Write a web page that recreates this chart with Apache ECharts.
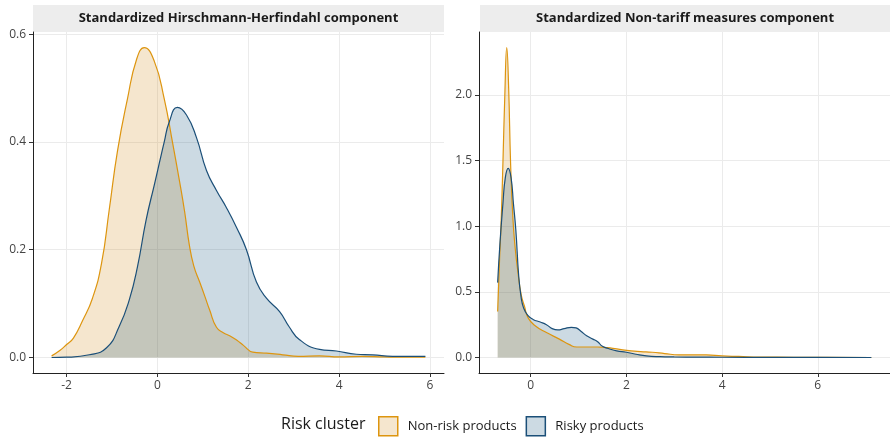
<!DOCTYPE html>
<html><head><meta charset="utf-8">
<script src="https://cdn.jsdelivr.net/npm/echarts@6/dist/echarts.min.js"></script>
<style>html,body{margin:0;padding:0;background:#fff}#c{width:890px;height:438px}</style>
</head><body><div id="c"></div>
<script>
// ---- Data ----
const panelTitles = ['Standardized Hirschmann-Herfindahl component', 'Standardized Non-tariff measures component'];
const seriesNames = ['Non-risk products', 'Risky products'];

// Left panel: Hirschmann-Herfindahl
const hhiNonRiskX = [-2.33,-2.15,-2.0,-1.85,-1.65,-1.43,-1.23,-1.06,-0.88,-0.66,-0.46,-0.29,-0.07,0.15,0.33,0.48,0.6,0.7,0.8,0.93,1.05,1.15,1.3,1.45,1.6,1.75,1.9,2.1,2.4,2.76,3.1,3.57,4.0,4.5,5.0,5.5,5.9];
const hhiNonRiskY = [0.003,0.013,0.024,0.036,0.068,0.11,0.175,0.275,0.383,0.48,0.553,0.575,0.55,0.48,0.40,0.33,0.27,0.21,0.17,0.14,0.112,0.088,0.056,0.046,0.04,0.032,0.022,0.01,0.008,0.005,0.002,0.003,0.001,0.002,0.001,0.0005,0.0005];
const hhiRiskyX = [-2.33,-2.0,-1.5,-1.12,-0.84,-0.62,-0.44,-0.25,-0.07,0.04,0.15,0.26,0.44,0.64,0.86,1.08,1.3,1.52,1.75,1.96,2.18,2.4,2.69,2.9,3.13,3.57,3.94,4.38,4.74,5.18,5.9];
const hhiRiskyY = [0.0,0.0005,0.005,0.018,0.058,0.107,0.168,0.255,0.32,0.36,0.40,0.437,0.464,0.45,0.408,0.347,0.31,0.278,0.24,0.2,0.14,0.11,0.085,0.057,0.033,0.015,0.012,0.006,0.005,0.002,0.002];

// Right panel: Non-tariff measures
const ntmNonRiskX = [-0.69,-0.65,-0.62,-0.58,-0.54,-0.5,-0.46,-0.42,-0.37,-0.32,-0.27,-0.2,-0.13,-0.05,0.1,0.33,0.6,0.8,0.96,1.2,1.4,1.6,1.8,2.1,2.3,2.54,2.8,3.1,3.4,3.67,4.0,4.35,4.8,5.5,6.2,7.12];
const ntmNonRiskY = [0.35,0.75,1.0,1.48,2.0,2.36,2.05,1.48,1.05,0.82,0.66,0.48,0.39,0.3,0.24,0.19,0.14,0.1,0.08,0.08,0.08,0.075,0.065,0.05,0.045,0.04,0.03,0.02,0.02,0.02,0.012,0.008,0.003,0.002,0.001,0.0];
const ntmRiskyX = [-0.69,-0.64,-0.58,-0.53,-0.47,-0.41,-0.36,-0.31,-0.25,-0.2,-0.15,-0.06,0.05,0.2,0.33,0.45,0.57,0.7,0.85,0.95,1.05,1.17,1.3,1.4,1.5,1.65,1.8,2.0,2.2,2.42,2.7,3.0,3.5,4.0,5.0,6.0,7.12];
const ntmRiskyY = [0.57,0.88,1.17,1.37,1.44,1.37,1.17,0.97,0.62,0.46,0.38,0.32,0.29,0.27,0.25,0.22,0.21,0.22,0.23,0.225,0.2,0.165,0.14,0.12,0.085,0.065,0.05,0.04,0.025,0.012,0.006,0.004,0.003,0.002,0.001,0.0005,0.0];

// Tick labels
const hhiXTicks = [-2,0,2,4,6];
const hhiYTicks = [0,0.2,0.4,0.6];
const ntmXTicks = [0,2,4,6];
const ntmYTicks = [0,0.5,1,1.5,2];

// ---- Styling ----
const FONT = 'Open Sans';
const lineColors = ['#DD950F', '#1B4F78'];
const fillColors = ['rgba(205,130,10,0.2)', 'rgba(0,70,115,0.2)'];
const legendFill = ['#F5E6CE', '#CCDAE3'];

const zip = (xs, ys) => xs.map((x, i) => [x, ys[i]]);

function mkX(gi, min, max, ticks) {
  return {
    type: 'value', gridIndex: gi, min: min, max: max,
    axisLine: { show: true, onZero: false, lineStyle: { color: '#222', width: 1 } },
    axisTick: { show: true, length: 4, customValues: ticks, lineStyle: { color: '#333', width: 1 } },
    axisLabel: { customValues: ticks, color: '#444', fontSize: 12, fontFamily: FONT, margin: 7,
      formatter: v => String(v) },
    splitLine: { show: true, lineStyle: { color: '#ebebeb', width: 1 } }
  };
}
function mkY(gi, min, max, ticks) {
  return {
    type: 'value', gridIndex: gi, min: min, max: max,
    axisLine: { show: true, onZero: false, lineStyle: { color: '#222', width: 1 } },
    axisTick: { show: true, length: 4, customValues: ticks, lineStyle: { color: '#333', width: 1 } },
    axisLabel: { customValues: ticks, color: '#444', fontSize: 12, fontFamily: FONT, margin: 7,
      formatter: v => v.toFixed(1) },
    splitLine: { show: true, lineStyle: { color: '#ebebeb', width: 1 } }
  };
}
function mkSeries(name, idx, gi, data) {
  return {
    type: 'line', name: name, xAxisIndex: gi, yAxisIndex: gi, data: data,
    smooth: 0.5, showSymbol: false, symbol: 'none',
    lineStyle: { color: lineColors[idx], width: 1.2 },
    itemStyle: { color: lineColors[idx] },
    areaStyle: { color: fillColors[idx], opacity: 1, origin: 'auto' },
    emphasis: { disabled: true }, animation: false
  };
}

const chart = echarts.init(document.getElementById('c'), null, { renderer: 'canvas' });
chart.setOption({
  animation: false,
  backgroundColor: '#ffffff',
  textStyle: { fontFamily: FONT },
  title: {
    text: 'Risk cluster', left: 281, top: 416, padding: 0,
    textStyle: { fontSize: 16, fontWeight: 'normal', color: '#1a1a1a', fontFamily: FONT }
  },
  legend: {
    left: 378, top: 416, padding: 0, itemWidth: 19, itemHeight: 19, itemGap: 9,
    textStyle: { fontSize: 13, color: '#1a1a1a', fontFamily: FONT, padding: [0, 0, 0, 5] },
    data: seriesNames.map((n, i) => ({
      name: n, icon: 'rect',
      itemStyle: { color: legendFill[i], borderColor: lineColors[i], borderWidth: 1.5 }
    })),
    selectedMode: false
  },
  grid: [
    { left: 33, top: 32, width: 411, bottom: 65 },
    { left: 479, top: 32, width: 411, bottom: 65 }
  ],
  xAxis: [mkX(0, -2.74, 6.31, hhiXTicks), mkX(1, -1.08, 7.51, ntmXTicks)],
  yAxis: [mkY(0, -0.0288, 0.604, hhiYTicks), mkY(1, -0.118, 2.478, ntmYTicks)],
  graphic: [
    { type: 'rect', left: 33, top: 5, shape: { width: 411, height: 27 }, style: { fill: '#ededed' }, silent: true },
    { type: 'rect', left: 480, top: 5, shape: { width: 410, height: 27 }, style: { fill: '#ededed' }, silent: true },
    { type: 'text', x: 238.5, y: 18.5, style: { text: panelTitles[0], align: 'center', verticalAlign: 'middle', font: 'bold 13px "Open Sans"', fill: '#1a1a1a' }, silent: true },
    { type: 'text', x: 685, y: 18.5, style: { text: panelTitles[1], align: 'center', verticalAlign: 'middle', font: 'bold 13px "Open Sans"', fill: '#1a1a1a' }, silent: true }
  ],
  series: [
    mkSeries(seriesNames[0], 0, 0, zip(hhiNonRiskX, hhiNonRiskY)),
    mkSeries(seriesNames[1], 1, 0, zip(hhiRiskyX, hhiRiskyY)),
    mkSeries(seriesNames[0], 0, 1, zip(ntmNonRiskX, ntmNonRiskY)),
    mkSeries(seriesNames[1], 1, 1, zip(ntmRiskyX, ntmRiskyY))
  ]
});
</script></body></html>
